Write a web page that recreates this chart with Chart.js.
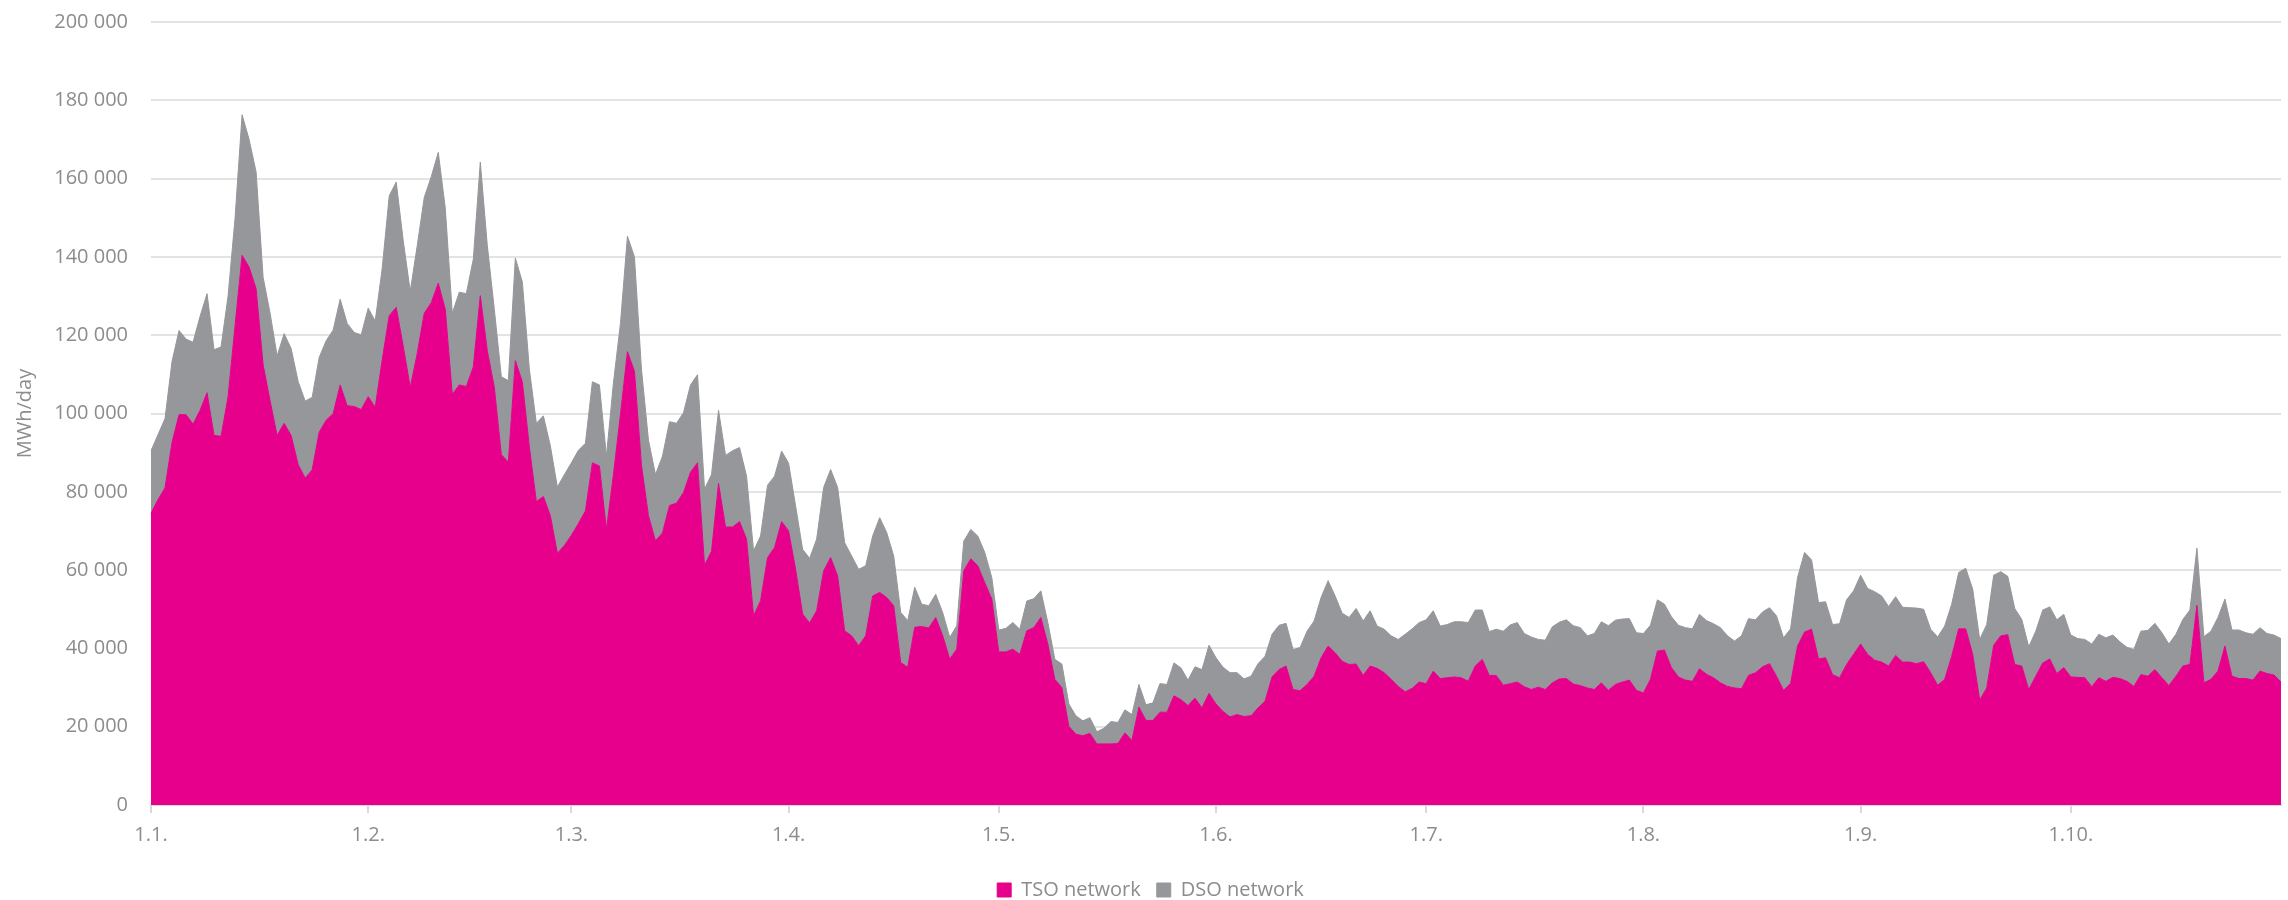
<!DOCTYPE html>
<html><head><meta charset="utf-8">
<style>html,body{margin:0;padding:0;background:#fff;overflow:hidden}#wrap{width:2288px;height:900px;position:relative}</style>
<script src="https://cdn.jsdelivr.net/npm/chart.js@4.4.1/dist/chart.umd.min.js"></script>
</head><body><div id="wrap"><canvas id="c" width="2288" height="900"></canvas></div>
<script>
// Days per month (leap year), Jan..Oct
const monthDays = [31,29,31,30,31,30,31,31,30,31];
const seriesNames = ['TSO network', 'DSO network'];
const yAxisTitle = 'MWh/day';

// TSO network, MWh/day (1.1. .. 31.10.)
const tso = [
74500,78000,81000,92600,99700,99700,97300,100800,105300,94400,
94200,104300,122500,140400,137400,131900,112500,103200,94400,97500,
94400,87000,83500,85600,95200,98300,100000,107300,102000,101800,
101000,104300,101600,113700,125000,127100,117200,106700,115400,125600,
128300,133300,126600,104900,107300,106900,111900,130100,116000,106700,
89500,87600,113500,108100,91500,77500,78800,73900,64300,66300,
68900,71900,75100,87400,86600,70400,84400,99700,115800,110800,
86800,73900,67500,69500,76500,77100,79800,85000,87400,61300,
64800,82100,71000,71000,72400,67900,48300,52200,63200,65800,
72400,70000,60200,48800,46500,49600,59800,63200,58500,44500,
43200,40700,43200,53400,54300,53000,50900,36400,35200,45400,
45600,45200,47900,43200,37300,39800,59800,62900,61100,56800,
52600,39100,39100,39800,38500,44500,45300,47900,41100,32100,
30000,20100,18100,17700,18300,15600,15600,15600,15700,18400,
16500,25000,21600,21600,23700,23700,27900,26900,25400,27300,
24800,28500,25800,23900,22500,23100,22600,22800,24800,26500,
32700,34600,35500,29500,29200,30800,32900,37600,40600,38900,
36700,35900,36000,33100,35500,34900,33800,32100,30300,28900,
29800,31400,31000,34200,32300,32500,32700,32500,31600,35500,
37200,33100,33100,30600,31000,31400,30200,29500,30100,29500,
31200,32200,32300,30900,30500,29900,29500,31200,29300,30800,
31400,31900,29300,28600,32100,39300,39600,35100,32700,31900,
31600,34800,33400,32500,31200,30300,29900,29700,33100,33800,
35300,36100,32900,29300,31000,40600,44200,44900,37300,37600,
33300,32500,35900,38500,41100,38500,37000,36500,35500,38200,
36500,36500,36100,36600,33800,30600,32100,38000,45000,45000,
38500,26800,29900,40800,43200,43500,35900,35500,29500,32900,
36300,37300,33600,35100,32700,32600,32500,30200,32500,31600,
32600,32300,31600,30300,33300,32900,34600,32500,30500,32900,
35500,35900,51000,31200,32100,34200,40600,32900,32300,32300,
31900,34200,33600,33200,31400
];

// DSO network, MWh/day (1.1. .. 31.10.)
const dso = [
16000,16600,17700,20700,21500,19300,20900,24000,25300,21900,
22800,25700,27500,35900,32600,29800,22300,22400,20300,22900,
22200,21200,19700,18500,19100,20300,21300,21900,21000,18900,
19100,22600,22000,23400,30600,32000,26900,24500,27500,29600,
32200,33400,25900,20700,23700,23700,27500,34100,26900,19900,
19900,20800,26200,25500,19800,20000,20600,17800,16900,18100,
18500,18700,17300,20700,20700,18700,23400,23300,29500,29200,
24500,19300,16900,19600,21400,20400,20400,22300,22500,19400,
19600,18700,18300,19500,18900,16100,16600,16500,18500,18200,
18000,17300,16200,16500,16500,18300,21300,22500,22600,22500,
20400,19500,17900,15300,19100,16600,12700,12800,11900,10200,
5700,5700,5900,5900,5500,6000,7600,7500,7600,7700,
5500,5600,6000,6800,6400,7600,7400,6800,5500,5100,
6000,5700,4700,3800,4000,3100,4000,5700,5400,5900,
6600,5800,4000,4500,7300,7100,8400,8100,6500,8000,
9800,12300,11800,11300,11300,10700,9600,10100,11300,11500,
10900,11300,10900,10200,11000,13600,14100,15400,16700,14500,
12300,12000,14200,13900,14100,10800,11100,11100,12000,14700,
15200,15200,16300,15400,13400,13600,14100,14300,15000,14300,
12600,11200,11800,13800,15000,15200,13600,13400,12200,12600,
14300,14500,15000,14900,14800,13300,14300,15600,16500,16400,
16100,15700,14700,15200,13800,13100,11700,13000,13200,13400,
13400,13900,13700,13800,14100,12900,12000,13500,14500,13500,
14000,14300,15400,13400,14000,17500,20300,17700,14400,14300,
12800,13800,16500,16200,17600,16800,17500,16900,15200,15000,
14000,13900,14200,13400,11100,12300,13600,13300,14400,15500,
16600,15500,16200,17900,16400,14900,14300,11900,10900,11500,
13500,13300,13700,13600,10700,9900,9800,10900,11100,11100,
10800,9400,8700,9400,11100,11700,11800,11500,10600,10700,
11900,13900,14600,11800,12300,13700,12000,11800,12400,11700,
11700,11100,10200,10200,11100
];

// Category labels d.m. for each day
const categories = [];
monthDays.forEach((n, m) => { for (let d = 1; d <= n; d++) categories.push(d + '.' + (m + 1) + '.'); });
const labels = categories.slice(0, tso.length);

const FONT = '"Open Sans", "DejaVu Sans", sans-serif';
const TXT = '#8c8c8c';
const fmt = v => String(v).replace(/\B(?=(\d{3})+(?!\d))/g, ' ');

const legendShift = {
  id: 'legendShift',
  afterLayout(chart) {
    const l = chart.legend;
    if (l) { l.left += 10; l.right += 10; }
  }
};

new Chart(document.getElementById('c'), {
  type: 'line',
  data: {
    labels: labels,
    datasets: [
      { label: seriesNames[0], data: tso, backgroundColor: '#E6008C', borderColor: '#E6008C',
        borderWidth: 1, fill: 'origin', pointRadius: 0, tension: 0 },
      { label: seriesNames[1], data: dso, backgroundColor: '#96979B', borderColor: '#96979B',
        borderWidth: 1, fill: '-1', pointRadius: 0, tension: 0 }
    ]
  },
  plugins: [legendShift],
  options: {
    responsive: false,
    animation: false,
    devicePixelRatio: 1,
    layout: { padding: { top: 22, right: 7, bottom: -10, left: 0 } },
    plugins: {
      tooltip: { enabled: false },
      legend: {
        position: 'bottom',
        labels: { font: { family: FONT, size: 20 }, color: TXT, boxWidth: 14, boxHeight: 14, padding: 16 }
      }
    },
    scales: {
      x: {
        stacked: true,
        offset: false,
        grid: { display: true, drawOnChartArea: false, drawTicks: true, tickLength: 8, color: '#d9d9d9', lineWidth: 2 },
        border: { display: true, color: '#d9d9d9', width: 2 },
        ticks: {
          autoSkip: false, maxRotation: 0, minRotation: 0, padding: 10,
          font: { family: FONT, size: 20 }, color: TXT,
          callback: function(v) { const l = this.getLabelForValue(v); return l.startsWith('1.') ? l : null; }
        },
        afterFit: s => { s.height = 59; }
      },
      y: {
        stacked: true,
        min: 0, max: 200000,
        grid: { color: '#e3e3e3', lineWidth: 2, drawTicks: true, tickLength: 23, tickColor: 'rgba(0,0,0,0)' },
        border: { display: false },
        ticks: { stepSize: 20000, padding: 0, font: { family: FONT, size: 20 }, color: TXT, callback: v => fmt(v) },
        title: { display: true, text: yAxisTitle, font: { family: FONT, size: 20 }, color: TXT, padding: { top: 13, bottom: 0 } },
        afterFit: s => { s.width = 151; }
      }
    }
  }
});
</script></body></html>
